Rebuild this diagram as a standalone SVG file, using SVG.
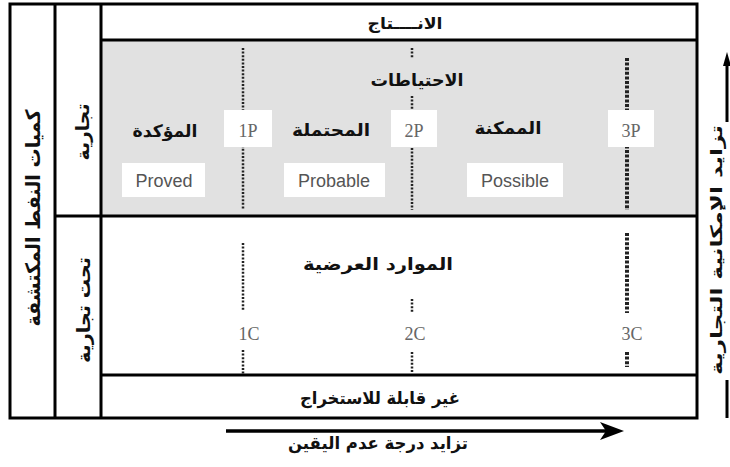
<svg xmlns="http://www.w3.org/2000/svg" width="730" height="467" viewBox="0 0 730 467">
<style>
.frame{fill:none;stroke:#000;stroke-width:3}
.ln{stroke:#000;stroke-width:3}
.ar{font-family:"DejaVu Sans","Noto Sans",sans-serif;font-weight:bold;fill:#111;text-anchor:middle}
.en{font-family:"Liberation Sans",Arial,sans-serif;font-size:18px;fill:#555;text-anchor:middle}
.code{font-family:"Liberation Serif","Times New Roman",serif;font-size:18px;fill:#666;text-anchor:middle}
.box{fill:#fff}
.dot{stroke:#222;stroke-width:2.5;stroke-dasharray:2 1.6;fill:none}
.dash{stroke:#222;stroke-width:4;stroke-dasharray:3 1.6;fill:none}
</style>
<rect width="730" height="467" fill="#fff"/>
<g id="commercial-area">
<rect x="101" y="40" width="596" height="176" fill="#e1e1e1"/>
</g>
<g id="frame">
<rect class="frame" x="10" y="4" width="687" height="414"/>
<line class="ln" x1="55" y1="4" x2="55" y2="418"/>
<line class="ln" x1="101" y1="4" x2="101" y2="418"/>
<line class="ln" x1="101" y1="40" x2="697" y2="40"/>
<line class="ln" x1="55" y1="216" x2="697" y2="216"/>
<line class="ln" x1="101" y1="375" x2="697" y2="375"/>
</g>
<g id="connectors">
<line class="dot" x1="243" y1="48" x2="243" y2="210"/>
<line class="dot" x1="412" y1="48" x2="412" y2="58"/>
<line class="dot" x1="412" y1="96" x2="412" y2="110"/>
<line class="dot" x1="412" y1="148" x2="412" y2="210"/>
<line class="dash" x1="627" y1="58" x2="627" y2="210"/>
<line class="dot" x1="243" y1="243" x2="243" y2="310"/>
<line class="dot" x1="243" y1="350" x2="243" y2="374"/>
<line class="dot" x1="412" y1="299" x2="412" y2="313"/>
<line class="dot" x1="412" y1="352" x2="412" y2="372"/>
<line class="dash" x1="627" y1="233" x2="627" y2="313"/>
<line class="dash" x1="627" y1="352" x2="627" y2="367"/>
<line x1="226" y1="431" x2="606" y2="431" stroke="#000" stroke-width="3.5"/>
<polygon points="624,431 600,422 606,431 600,440" fill="#000"/>
<line x1="727" y1="60" x2="727" y2="122" stroke="#000" stroke-width="3"/>
<polygon points="727,52 723,66 731,66" fill="#000"/>
<line x1="727" y1="380" x2="727" y2="418" stroke="#000" stroke-width="3"/>
</g>
<g id="label-left">
<text class="ar" font-size="20" transform="translate(40,218) rotate(-90)" textLength="217" lengthAdjust="spacingAndGlyphs">كميات النفط المكتشفة</text>
</g>
<g id="label-commercial">
<text class="ar" font-size="18" transform="translate(89,132) rotate(-90)" textLength="57" lengthAdjust="spacingAndGlyphs">تجارية</text>
</g>
<g id="label-subcommercial">
<text class="ar" font-size="18" transform="translate(90,310) rotate(-90)" textLength="106" lengthAdjust="spacingAndGlyphs">تحت تجارية</text>
</g>
<g id="label-right">
<text class="ar" font-size="16" transform="translate(722,250) rotate(-90)" textLength="250" lengthAdjust="spacingAndGlyphs">تزايد الإمكانية التجارية</text>
</g>
<g id="production">
<text class="ar" font-size="16" x="405" y="29" textLength="75" lengthAdjust="spacingAndGlyphs">الانــــتاج</text>
</g>
<g id="reserves">
<text class="ar" font-size="17" x="417" y="86" textLength="93" lengthAdjust="spacingAndGlyphs">الاحتياطات</text>
</g>
<g id="proved">
<text class="ar" font-size="17" x="165" y="137" textLength="65" lengthAdjust="spacingAndGlyphs">المؤكدة</text>
<rect class="box" x="122" y="163" width="83" height="34"/>
<text class="en" x="164" y="187">Proved</text>
</g>
<g id="probable">
<text class="ar" font-size="17" x="331" y="136" textLength="78" lengthAdjust="spacingAndGlyphs">المحتملة</text>
<rect class="box" x="284" y="163" width="101" height="34"/>
<text class="en" x="334" y="187">Probable</text>
</g>
<g id="possible">
<text class="ar" font-size="17" x="508" y="134" textLength="67" lengthAdjust="spacingAndGlyphs">الممكنة</text>
<rect class="box" x="467" y="163" width="96" height="34"/>
<text class="en" x="515" y="187">Possible</text>
</g>
<g id="p1">
<rect class="box" x="224" y="110" width="48" height="37"/>
<text class="code" x="248" y="137">1P</text>
</g>
<g id="p2">
<rect class="box" x="391" y="110" width="46" height="37"/>
<text class="code" x="414" y="137">2P</text>
</g>
<g id="p3">
<rect class="box" x="608" y="110" width="46" height="37"/>
<text class="code" x="631" y="137">3P</text>
</g>
<g id="contingent">
<text class="ar" font-size="17" x="378" y="270" textLength="150" lengthAdjust="spacingAndGlyphs">الموارد العرضية</text>
</g>
<g id="c1"><text class="code" x="249" y="340">1C</text></g>
<g id="c2"><text class="code" x="415" y="340">2C</text></g>
<g id="c3"><text class="code" x="632" y="340">3C</text></g>
<g id="unrecoverable">
<text class="ar" font-size="17" x="380" y="404" textLength="160" lengthAdjust="spacingAndGlyphs">غير قابلة للاستخراج</text>
</g>
<g id="label-bottom">
<text class="ar" font-size="17" x="378" y="449" textLength="180" lengthAdjust="spacingAndGlyphs">تزايد درجة عدم اليقين</text>
</g>
</svg>
